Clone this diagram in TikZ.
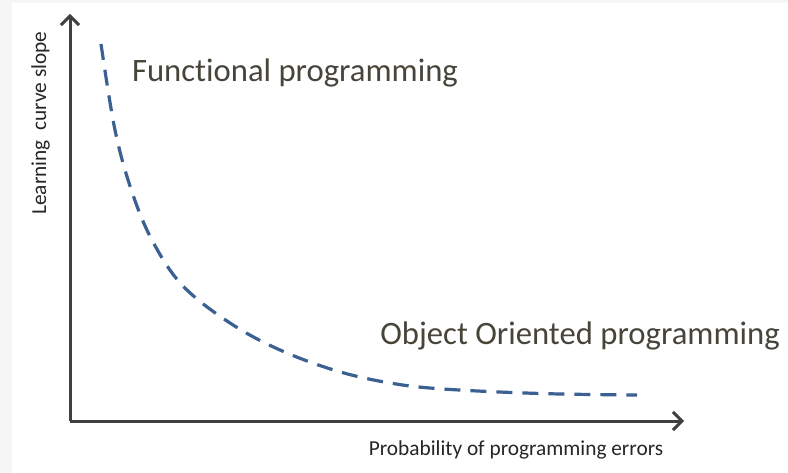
\documentclass[tikz,border=0pt]{standalone}
\usepackage{fontspec}
\setmainfont[Ligatures=NoCommon]{Carlito}
\usetikzlibrary{arrows.meta}
\definecolor{axisgray}{HTML}{404040}
\definecolor{curveblue}{HTML}{3B6092}
\definecolor{labeltext}{HTML}{47453A}
\definecolor{edgegray}{HTML}{F6F6F6}
\begin{document}
\begin{tikzpicture}[x=1bp,y=-1bp,
  axisline/.style={draw=axisgray,line width=3bp,
    -{Straight Barb[length=9bp,width=18bp,line width=3bp]}},
  trend/.style={draw=curveblue,line width=3.2bp,dash pattern=on 16bp off 10bp},
  biglabel/.style={text=labeltext,font=\fontsize{32.8}{36}\selectfont,inner sep=0pt,anchor=base},
  axislabel/.style={text=black!85,font=\fontsize{21.4}{24}\selectfont,inner sep=0pt,anchor=base}]
  % page and its faint frame
  \fill[edgegray] (0,0) rectangle (788,473);
  \fill[white] (12,3) rectangle (788,473);
  \useasboundingbox (0,0) rectangle (788,473);
  % axes
  \coordinate (origin) at (70,421);
  \coordinate (ytip) at (70,14);
  \coordinate (xtip) at (684,421);
  \draw[axisline] (origin) -- (ytip);
  \draw[axisline] (origin) -- (xtip);
  % decreasing trend
  \draw[trend] plot[smooth,tension=0.6] coordinates {
    (101,44) (115,130) (132,192) (153,242) (183,286) (230,323)
    (280,350) (337,371) (390,383) (443,389) (540,393.5) (637,395)};
  % labels
  \node[biglabel] (fp) at (295,82) {Functional programming};
  \node[biglabel] (oop) at (580,345) {Object Oriented programming};
  \node[axislabel] (xl) at (516,455) {Probability of programming errors};
  \node[axislabel,rotate=90] (yl) at (46,123) {Learning\ \ curve slope};
\end{tikzpicture}
\end{document}
